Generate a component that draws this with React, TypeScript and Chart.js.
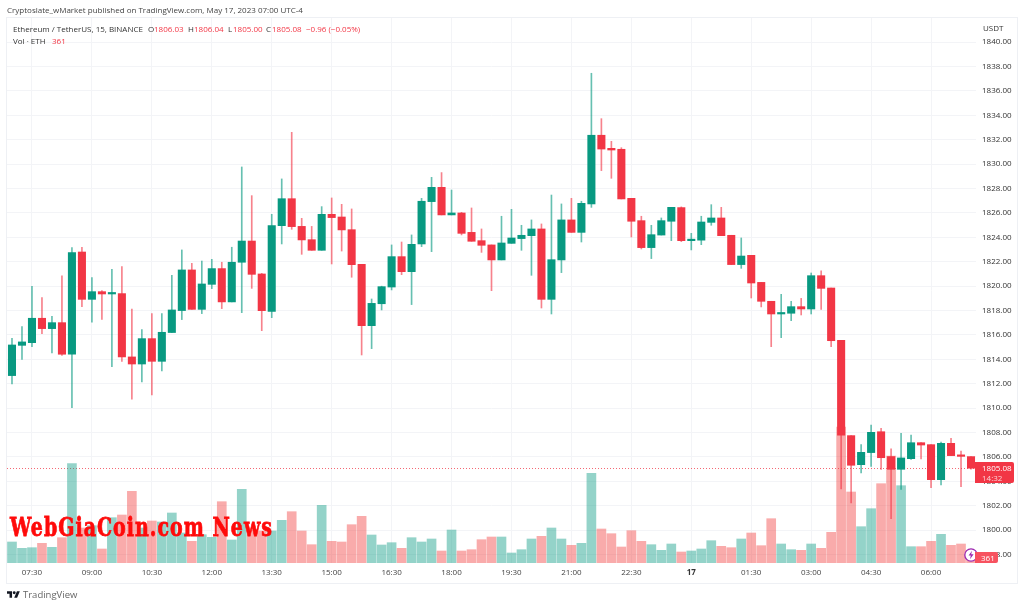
import React, { useEffect, useRef } from "react";
import { Chart, registerables } from "chart.js";

Chart.register(...registerables);

const times = [
  "07:00","07:15","07:30","07:45","08:00","08:15","08:30","08:45","09:00","09:15","09:30","09:45",
  "10:00","10:15","10:30","10:45","11:00","11:15","11:30","11:45","12:00","12:15","12:30","12:45",
  "13:00","13:15","13:30","13:45","14:00","14:15","14:30","14:45","15:00","15:15","15:30","15:45",
  "16:00","16:15","16:30","16:45","17:00","17:15","17:30","17:45","18:00","18:15","18:30","18:45",
  "19:00","19:15","19:30","19:45","20:00","20:15","20:30","20:45","21:00","21:15","21:30","21:45",
  "22:00","22:15","22:30","22:45","23:00","23:15","23:30","23:45","17","00:15","00:30","00:45",
  "01:00","01:15","01:30","01:45","02:00","02:15","02:30","02:45","03:00","03:15","03:30","03:45",
  "04:00","04:15","04:30","04:45","05:00","05:15","05:30","05:45","06:00","06:15","06:30","06:45","07:00 ",
];
const timeTicks = ["07:30","09:00","10:30","12:00","13:30","15:00","16:30","18:00","19:30","21:00","22:30","17","01:30","03:00","04:30","06:00"];
const priceTicks = [1798,1800,1802,1804,1806,1808,1810,1812,1814,1816,1818,1820,1822,1824,1826,1828,1830,1832,1834,1836,1838,1840];

const opens = [
  1812.67,1815.15,1815.37,1817.37,1816.52,1817.01,1814.42,1822.80,1818.92,1819.55,1819.36,1819.39,1814.20,1813.62,1815.70,1813.84,1816.20,1818.00,1821.33,1818.10,1820.15,1821.44,1818.71,1821.96,1823.70,1821.00,1817.94,1824.96,1827.17,1824.90,1823.81,1822.94,1825.89,
  1825.67,1824.63,1821.79,1816.76,1818.56,1819.93,1822.42,1821.19,1823.46,1826.93,1828.10,1825.84,1826.00,1824.41,1823.73,1823.38,1822.15,1823.51,1823.90,1824.14,1824.69,1818.92,1822.15,1825.43,1824.41,1826.74,1832.37,1831.30,1831.22,1827.20,1825.37,1823.16,1824.19,1825.32,
  1826.44,1823.73,1823.77,1825.23,1825.59,1824.17,1821.77,1822.53,1820.31,1818.76,1817.72,1817.78,1818.32,1818.13,1820.86,1819.85,1815.56,1807.75,1805.37,1806.36,1808.07,1806.03,1804.99,1805.86,1807.17,1807.01,1804.14,1807.12,1806.14,1806.03,
];
const closes = [
  1815.18,1815.43,1817.37,1816.52,1817.01,1814.42,1822.75,1818.92,1819.55,1819.36,1819.42,1814.20,1813.62,1815.70,1813.84,1816.22,1818.05,1821.33,1818.10,1820.18,1821.44,1818.71,1821.96,1823.70,1820.97,1817.99,1824.96,1827.17,1824.88,1823.79,1822.94,1825.89,1825.62,
  1824.61,1821.76,1816.76,1818.59,1819.96,1822.42,1821.19,1823.43,1826.96,1828.10,1825.84,1826.00,1824.33,1823.68,1823.35,1822.15,1823.54,1823.95,1824.17,1824.69,1818.92,1822.17,1825.43,1824.41,1826.79,1832.37,1831.24,1831.16,1827.15,1825.32,1823.16,1824.22,1825.37,1826.46,
  1823.73,1823.81,1825.26,1825.59,1824.14,1821.77,1822.47,1820.26,1818.76,1817.72,1817.80,1818.32,1818.13,1820.86,1819.82,1815.53,1807.78,1805.32,1806.38,1808.02,1805.94,1804.99,1805.92,1807.17,1806.98,1804.14,1807.12,1806.11,1806.05,1805.08,
];
const highs = [
  1815.73,1816.68,1819.99,1819.06,1817.53,1820.84,1823.16,1823.19,1820.70,1819.63,1821.38,1821.60,1818.13,1816.44,1817.75,1817.75,1820.89,1822.97,1821.87,1822.06,1822.20,1821.96,1823.19,1829.77,1827.42,1821.05,1825.89,1828.79,1832.61,1825.56,1824.90,1826.52,1827.23,
  1826.71,1826.33,1821.79,1818.95,1820.00,1823.38,1823.62,1824.20,1827.20,1828.92,1829.31,1827.88,1826.05,1826.41,1824.69,1823.38,1825.73,1826.30,1824.99,1825.43,1825.10,1827.47,1826.74,1827.20,1826.96,1837.45,1833.73,1831.87,1831.35,1827.20,1825.73,1824.99,1825.59,1826.46,
  1826.50,1824.33,1825.73,1826.68,1826.46,1824.17,1823.95,1822.53,1820.31,1818.76,1819.33,1818.76,1819.00,1821.08,1821.25,1819.85,1815.56,1807.75,1807.01,1808.62,1808.35,1806.66,1807.94,1807.80,1807.17,1807.01,1807.23,1807.53,1806.49,1806.04,
];
const lows = [
  1811.98,1814.00,1815.04,1816.11,1814.52,1814.33,1810.04,1818.32,1817.04,1817.28,1813.40,1813.84,1810.73,1812.15,1811.08,1813.05,1816.20,1817.26,1818.10,1817.75,1819.80,1818.16,1818.71,1817.83,1819.82,1816.35,1817.42,1823.46,1824.66,1822.61,1822.94,1822.94,1821.82,
  1822.88,1820.73,1814.36,1814.88,1818.05,1819.69,1820.94,1818.49,1823.24,1822.83,1825.84,1825.84,1824.20,1823.68,1822.77,1819.63,1822.15,1823.51,1822.94,1820.89,1818.21,1817.72,1821.11,1824.41,1823.62,1826.46,1829.47,1828.84,1827.15,1824.03,1823.05,1822.26,1824.19,1823.73,
  1823.65,1822.97,1823.40,1824.99,1824.14,1821.77,1821.46,1819.03,1818.30,1815.04,1815.78,1817.17,1817.64,1817.72,1818.10,1815.04,1803.38,1802.23,1804.69,1805.23,1804.99,1800.94,1803.35,1805.81,1805.84,1803.49,1803.70,1806.11,1803.57,1805.00,
];
const volumes = [
  1512,1058,1102,1418,1130,1822,7150,2520,2686,1008,3262,3456,5162,2520,3024,2952,3600,2160,1562,2038,1850,4414,1656,5306,2376,2304,2304,3074,3694,2304,1318,4154,1562,
  1512,2758,3362,2016,1296,1462,1058,1822,1512,1728,864,2376,864,958,1678,1872,1872,720,958,1728,1922,2520,1728,1274,1418,6458,2448,2110,1152,2326,1562,1318,914,1368,
  792,864,1008,1606,1202,1102,1728,2160,1246,3190,1368,958,914,1368,1058,2210,9792,5112,2614,3910,5710,7704,5566,1174,1174,1562,2066,1274,1368,361,
];
const lastClose = 1805.08;

const GREEN = "#089981";
const RED = "#F23645";
const WICK_GREEN = "rgba(8,153,129,0.62)";
const WICK_RED = "rgba(242,54,69,0.62)";
const VOL_GREEN = "rgba(8,153,129,0.43)";
const VOL_RED = "rgba(242,60,60,0.43)";
const GRID = "#f3f4f7";
const FONT = '"Open Sans", sans-serif';

const isUp = (i: number) => closes[i] >= opens[i];
const pick = (a: string, b: string) => times.map((_, i) => (isUp(i) ? a : b));

const priceLine = {
  id: "priceLine",
  beforeDatasetsDraw(chart: any) {
    const { ctx, chartArea, scales } = chart;
    const y = Math.round(scales.y.getPixelForValue(lastClose)) + 0.5;
    ctx.save();
    ctx.strokeStyle = "rgba(242,54,69,0.75)";
    ctx.lineWidth = 1;
    ctx.setLineDash([1, 2]);
    ctx.beginPath();
    ctx.moveTo(chartArea.left, y);
    ctx.lineTo(chartArea.right, y);
    ctx.stroke();
    ctx.restore();
  },
};

const txt = (left: number, top: number, color: string, size = 8): React.CSSProperties => ({
  position: "absolute",
  left,
  top,
  color,
  fontSize: size,
  lineHeight: "12px",
  fontFamily: FONT,
  whiteSpace: "pre",
});

export default function App() {
  const ref = useRef<HTMLCanvasElement>(null);
  useEffect(() => {
    const chart = new Chart(ref.current as HTMLCanvasElement, {
      type: "bar",
      plugins: [priceLine],
      data: {
        labels: times,
        datasets: [
          {
            label: "Volume",
            data: volumes,
            yAxisID: "y2",
            order: 3,
            grouped: false,
            barThickness: 9,
            backgroundColor: pick(VOL_GREEN, VOL_RED),
          },
          {
            label: "Wick",
            data: times.map((_, i) => [lows[i], highs[i]]),
            yAxisID: "y",
            order: 2,
            grouped: false,
            barThickness: 1,
            backgroundColor: pick(WICK_GREEN, WICK_RED),
          },
          {
            label: "Body",
            data: times.map((_, i) => [opens[i], closes[i]]),
            yAxisID: "y",
            order: 1,
            grouped: false,
            barThickness: 7.4,
            minBarLength: 1.5,
            backgroundColor: pick(GREEN, RED),
          },
        ] as any,
      },
      options: {
        responsive: false,
        animation: false,
        devicePixelRatio: 1,
        layout: { padding: { left: 7, top: 18, right: 7, bottom: 24 } },
        plugins: { legend: { display: false }, tooltip: { enabled: false }, title: { display: false } },
        scales: {
          x: {
            offset: true,
            border: { display: false },
            grid: { color: GRID, offset: false, drawTicks: false },
            afterBuildTicks: (s: any) => {
              s.ticks = s.ticks.filter((t: any) => timeTicks.includes(times[t.value]));
            },
            afterFit: (s: any) => {
              s.height = 20;
              s.paddingLeft = 0;
              s.paddingRight = 0;
            },
            ticks: {
              autoSkip: false,
              maxRotation: 0,
              padding: 5,
              font: (c: any) => ({
                family: FONT,
                size: 8,
                weight: c.tick && c.tick.label === "17" ? "bold" : "normal",
              }),
              color: (c: any) => (c.tick && c.tick.label === "17" ? "#333" : "#444"),
              callback(this: any, v: any) {
                return times[v];
              },
            },
          },
          y: {
            position: "right",
            min: 1797.31,
            max: 1841.98,
            border: { display: false },
            grid: { color: GRID, drawTicks: false },
            afterBuildTicks: (s: any) => {
              s.ticks = priceTicks.map((value) => ({ value }));
            },
            afterFit: (s: any) => {
              s.width = 41;
              s.paddingTop = 0;
              s.paddingBottom = 0;
            },
            ticks: {
              padding: 6,
              autoSkip: false,
              color: "#333",
              font: { family: FONT, size: 8 },
              callback: (v: any) => Number(v).toFixed(2),
            },
          },
          y2: { display: false, position: "left", min: 0, max: 39240 },
        },
      } as any,
    });
    return () => chart.destroy();
  }, []);

  return (
    <div style={{ position: "fixed", left: 0, top: 0, width: 1024, height: 607, overflow: "hidden", background: "#fff" }}>
      <canvas ref={ref} width={1024} height={607} style={{ display: "block", filter: "blur(0.4px)" }} />
      <div style={{ position: "absolute", left: 6, top: 17, width: 1012, height: 567, boxSizing: "border-box", border: "1.5px solid #eef0f4", pointerEvents: "none" }} />

      <span style={txt(7, 4, "#444")}>Cryptoslate_wMarket published on TradingView.com, May 17, 2023 07:00 UTC-4</span>
      <span style={txt(13, 23, "#333")}>Ethereum / TetherUS, 15, BINANCE</span>
      <span style={txt(148, 23, "#333")}>O</span>
      <span style={txt(154, 23, "#F23645")}>1806.03</span>
      <span style={txt(188, 23, "#333")}>H</span>
      <span style={txt(194, 23, "#F23645")}>1806.04</span>
      <span style={txt(228, 23, "#333")}>L</span>
      <span style={txt(233, 23, "#F23645")}>1805.00</span>
      <span style={txt(266, 23, "#333")}>C</span>
      <span style={txt(272, 23, "#F23645")}>1805.08</span>
      <span style={txt(306, 23, "#F23645")}>−0.96 (−0.05%)</span>
      <span style={txt(13, 35, "#333")}>Vol · ETH</span>
      <span style={txt(52, 35, "#F23645")}>361</span>
      <span style={txt(983, 22, "#333")}>USDT</span>

      <div style={{ position: "absolute", left: 975, top: 462, width: 39, height: 21, background: RED, borderRadius: "0 2px 2px 0" }} />
      <span style={txt(982, 462, "#fff")}>1805.08</span>
      <span style={txt(982, 472, "#fbd0d4")}>14:32</span>

      <svg width="16" height="16" viewBox="0 0 16 16" style={{ position: "absolute", left: 963, top: 547 }}>
        <circle cx="8" cy="8" r="6.2" fill="#fff" stroke="#9c27b0" strokeWidth="1.3" />
        <path d="M9 3.8 5.6 8.6h2.2L7 12.2l3.6-5H8.2z" fill="#9c27b0" />
      </svg>
      <div style={{ position: "absolute", left: 975, top: 552, width: 23, height: 11, background: "#F7525F", borderRadius: "0 2px 2px 0" }} />
      <span style={txt(981, 552, "#fff")}>361</span>

      <div
        style={{
          position: "absolute",
          left: 10,
          top: 511,
          color: "#ff0a0a",
          fontFamily: '"DejaVu Serif", serif',
          fontWeight: 700,
          fontSize: 26,
          lineHeight: "32px",
          letterSpacing: "1.4px",
          whiteSpace: "pre",
          WebkitTextStroke: "0.8px #ff0a0a",
          transform: "scaleX(0.73)",
          transformOrigin: "left center",
        }}
      >
        WebGiaCoin.com News
      </div>

      <svg width="13" height="7" viewBox="0 4 36 18" style={{ position: "absolute", left: 7, top: 591 }}>
        <path d="M14 22H7V11H0V4h14v18zM28 22h-8l7.5-18h8L28 22z" fill="#131722" />
        <circle cx="20" cy="8" r="4" fill="#131722" />
      </svg>
      <span style={{ ...txt(23, 588, "#666", 9.5), lineHeight: "14px" }}>TradingView</span>
    </div>
  );
}
